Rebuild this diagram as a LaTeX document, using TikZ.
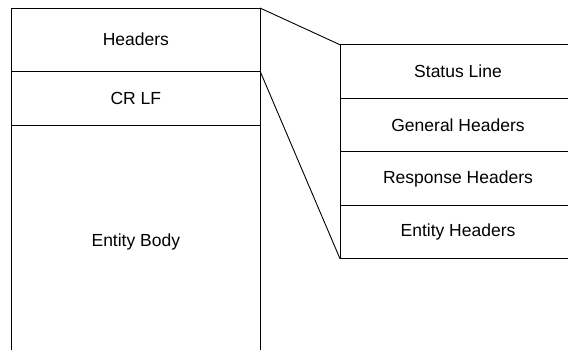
\documentclass[tikz,border=0pt]{standalone}
\usepackage{fontspec}
\setmainfont{Liberation Sans}
\begin{document}
\begin{tikzpicture}[x=1pt,y=-1pt,
  cell/.style={draw=black,line width=0.9pt,rectangle,inner sep=0pt,outer sep=0pt,
    font=\fontsize{17.5}{19}\selectfont},
  link/.style={draw=black,line width=0.9pt}]
\useasboundingbox (0,0) rectangle (568,349);
\clip (0,0) rectangle (568,349);
\fill[white] (0,0) rectangle (568,349);
% left stack
\node[cell,minimum width=248.3pt,minimum height=63pt] (headers) at (135.85,39.5) {Headers};
\node[cell,minimum width=248.3pt,minimum height=54pt] (crlf) at (135.85,98) {CR LF};
\node[cell,minimum width=248.3pt,minimum height=234pt] (body) at (135.85,242) {Entity Body};
% right stack
\node[cell,minimum width=236pt,minimum height=53.5pt] (status) at (458,71.5) {Status Line};
\node[cell,minimum width=236pt,minimum height=53.5pt] (general) at (458,125) {General Headers};
\node[cell,minimum width=236pt,minimum height=53.5pt] (response) at (458,178.5) {Response Headers};
\node[cell,minimum width=236pt,minimum height=53.5pt] (entityh) at (458,232) {Entity Headers};
% connectors
\draw[link] (headers.north east) -- (status.north west);
\draw[link] (headers.south east) -- (entityh.south west);
\end{tikzpicture}
\end{document}
